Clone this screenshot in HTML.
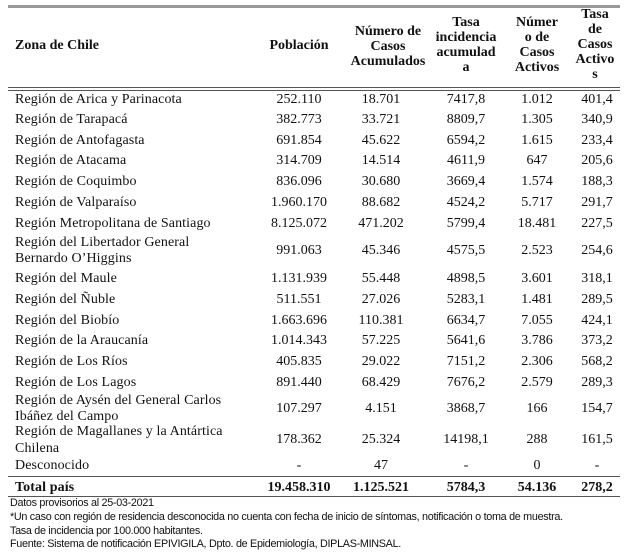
<!DOCTYPE html>
<html><head><meta charset="utf-8"><style>
body{margin:0;width:626px;height:556px;background:#fff;position:relative;overflow:hidden;font-family:"Liberation Serif",serif;color:#111}
.r{position:absolute;left:0;width:626px;font-size:14px;line-height:16px;height:16px;margin-top:1px}
.r span{position:absolute;top:0;text-align:center;white-space:nowrap}
.n{left:15px;text-align:left!important;letter-spacing:0.1px}
.a{left:259px;width:80px}.b{left:341px;width:80px}.c{left:426px;width:80px}.d{left:507px;width:60px}.e{left:572px;width:50px}
.h{position:absolute;font-weight:bold;font-size:14px;line-height:15px;text-align:center}
.line{position:absolute;left:8px;width:612px;background:#555}
.f{position:absolute;left:10px;font-family:"Liberation Sans",sans-serif;font-size:10.8px;line-height:12px;letter-spacing:-0.3px}
</style></head><body>
<div class="line" style="top:5px;height:3px;background:#999"></div>
<div class="h" style="left:15px;top:38px;text-align:left">Zona de Chile</div>
<div class="h" style="left:254px;top:38px;width:90px">Población</div>
<div class="h" style="left:338px;top:24px;width:100px">Número de<br>Casos<br>Acumulados</div>
<div class="h" style="left:421px;top:15px;width:90px">Tasa<br>incidencia<br>acumulad<br>a</div>
<div class="h" style="left:507px;top:15px;width:60px">Númer<br>o de<br>Casos<br>Activos</div>
<div class="h" style="left:570px;top:7px;width:50px">Tasa<br>de<br>Casos<br>Activo<br>s</div>
<div class="line" style="top:87px;height:1px"></div>
<div class="line" style="top:90px;height:1px"></div>

<div class="r" style="top:91px"><span class="n">Región de Arica y Parinacota</span><span class="a">252.110</span><span class="b">18.701</span><span class="c">7417,8</span><span class="d">1.012</span><span class="e">401,4</span></div>
<div class="r" style="top:111px"><span class="n">Región de Tarapacá</span><span class="a">382.773</span><span class="b">33.721</span><span class="c">8809,7</span><span class="d">1.305</span><span class="e">340,9</span></div>
<div class="r" style="top:132px"><span class="n">Región de Antofagasta</span><span class="a">691.854</span><span class="b">45.622</span><span class="c">6594,2</span><span class="d">1.615</span><span class="e">233,4</span></div>
<div class="r" style="top:152px"><span class="n">Región de Atacama</span><span class="a">314.709</span><span class="b">14.514</span><span class="c">4611,9</span><span class="d">647</span><span class="e">205,6</span></div>
<div class="r" style="top:173px"><span class="n">Región de Coquimbo</span><span class="a">836.096</span><span class="b">30.680</span><span class="c">3669,4</span><span class="d">1.574</span><span class="e">188,3</span></div>
<div class="r" style="top:194px"><span class="n">Región de Valparaíso</span><span class="a">1.960.170</span><span class="b">88.682</span><span class="c">4524,2</span><span class="d">5.717</span><span class="e">291,7</span></div>
<div class="r" style="top:215px"><span class="n">Región Metropolitana de Santiago</span><span class="a">8.125.072</span><span class="b">471.202</span><span class="c">5799,4</span><span class="d">18.481</span><span class="e">227,5</span></div>
<div class="r" style="top:234px"><span class="n">Región del Libertador General</span></div>
<div class="r" style="top:250px"><span class="n">Bernardo O’Higgins</span></div>
<div class="r" style="top:242px"><span class="a">991.063</span><span class="b">45.346</span><span class="c">4575,5</span><span class="d">2.523</span><span class="e">254,6</span></div>
<div class="r" style="top:270px"><span class="n">Región del Maule</span><span class="a">1.131.939</span><span class="b">55.448</span><span class="c">4898,5</span><span class="d">3.601</span><span class="e">318,1</span></div>
<div class="r" style="top:291px"><span class="n">Región del Ñuble</span><span class="a">511.551</span><span class="b">27.026</span><span class="c">5283,1</span><span class="d">1.481</span><span class="e">289,5</span></div>
<div class="r" style="top:312px"><span class="n">Región del Biobío</span><span class="a">1.663.696</span><span class="b">110.381</span><span class="c">6634,7</span><span class="d">7.055</span><span class="e">424,1</span></div>
<div class="r" style="top:332px"><span class="n">Región de la Araucanía</span><span class="a">1.014.343</span><span class="b">57.225</span><span class="c">5641,6</span><span class="d">3.786</span><span class="e">373,2</span></div>
<div class="r" style="top:353px"><span class="n">Región de Los Ríos</span><span class="a">405.835</span><span class="b">29.022</span><span class="c">7151,2</span><span class="d">2.306</span><span class="e">568,2</span></div>
<div class="r" style="top:374px"><span class="n">Región de Los Lagos</span><span class="a">891.440</span><span class="b">68.429</span><span class="c">7676,2</span><span class="d">2.579</span><span class="e">289,3</span></div>
<div class="r" style="top:392px"><span class="n">Región de Aysén del General Carlos</span></div>
<div class="r" style="top:408px"><span class="n">Ibáñez del Campo</span></div>
<div class="r" style="top:400px"><span class="a">107.297</span><span class="b">4.151</span><span class="c">3868,7</span><span class="d">166</span><span class="e">154,7</span></div>
<div class="r" style="top:423px"><span class="n">Región de Magallanes y la Antártica</span></div>
<div class="r" style="top:440px"><span class="n">Chilena</span></div>
<div class="r" style="top:431px"><span class="a">178.362</span><span class="b">25.324</span><span class="c">14198,1</span><span class="d">288</span><span class="e">161,5</span></div>
<div class="r" style="top:457px"><span class="n">Desconocido</span><span class="a">-</span><span class="b">47</span><span class="c">-</span><span class="d">0</span><span class="e">-</span></div>
<div class="line" style="top:476px;height:1px"></div>
<div class="r" style="top:479px;font-weight:bold"><span class="n">Total país</span><span class="a">19.458.310</span><span class="b">1.125.521</span><span class="c">5784,3</span><span class="d">54.136</span><span class="e">278,2</span></div>
<div class="line" style="top:496px;height:1px"></div>
<div class="f" style="top:497px">Datos provisorios al 25-03-2021</div>
<div class="f" style="top:511px">*Un caso con región de residencia desconocida no cuenta con fecha de inicio de síntomas, notificación o toma de muestra.</div>
<div class="f" style="top:525px">Tasa de incidencia por 100.000 habitantes.</div>
<div class="f" style="top:538px">Fuente: Sistema de notificación EPIVIGILA, Dpto. de Epidemiología, DIPLAS-MINSAL.</div>
</body></html>
